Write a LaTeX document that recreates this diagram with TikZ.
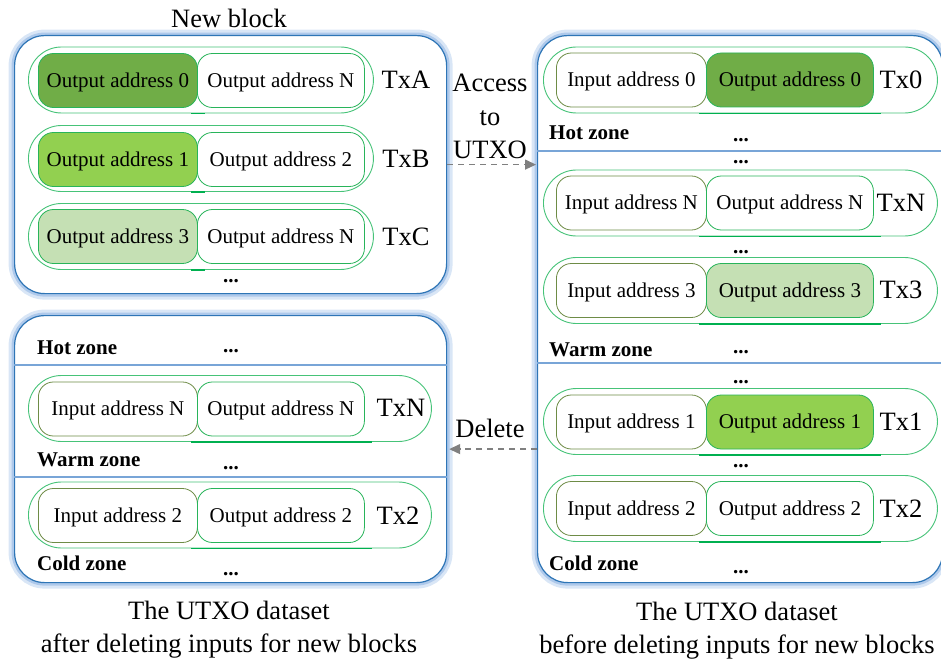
\documentclass[tikz,border=0pt]{standalone}
\usepackage{fontspec}
\setmainfont{Liberation Serif}
\usetikzlibrary{arrows.meta}
\definecolor{darkfill}{HTML}{70AD47}
\definecolor{midfill}{HTML}{92D050}
\definecolor{lightfill}{HTML}{C5E0B4}
\definecolor{capgreen}{RGB}{70,195,120}
\definecolor{outgreen}{RGB}{40,180,90}
\definecolor{inolive}{RGB}{110,140,70}
\definecolor{ulgreen}{RGB}{0,176,80}
\definecolor{panelblue}{RGB}{46,117,182}
\definecolor{glowblue}{RGB}{160,192,232}
\definecolor{zoneblue}{RGB}{120,165,215}
\definecolor{arrgray}{RGB}{128,128,128}
\newcommand\addrfont{\fontsize{21}{25}\selectfont}
\newcommand\bigfont{\fontsize{26.5}{33.5}\selectfont}
\newcommand\zonefont{\fontsize{21}{25}\selectfont\bfseries}
\tikzset{
  panel/.style={fill=white, draw=panelblue, line width=1.2pt, rounded corners=30pt,
    inner sep=0pt, anchor=north west,
    preaction={draw=glowblue!40, line width=12pt},
    preaction={draw=glowblue!85, line width=6pt}},
  txcap/.style={draw=capgreen, line width=0.9pt, rounded corners=33pt, minimum height=66pt,
    inner sep=0pt, anchor=west},
  inb/.style={draw=inolive, line width=0.8pt, rounded corners=15pt, minimum height=54pt,
    minimum width=#1, inner sep=0pt, anchor=west, fill=white, font=\addrfont, text depth=1.5pt},
  outb/.style={draw=outgreen, line width=0.8pt, rounded corners=15pt, minimum height=54pt,
    minimum width=167pt, inner sep=0pt, anchor=west, fill=white, font=\addrfont, text depth=1.5pt},
  txlabel/.style={font=\bigfont, inner sep=0pt},
  zonelbl/.style={font=\zonefont, anchor=west, inner sep=0pt},
  dotlbl/.style={font=\addrfont\bfseries, inner sep=0pt},
  uline/.style={draw=ulgreen, line width=1.8pt},
  zline/.style={draw=zoneblue, line width=1.3pt},
  conn/.style={draw=arrgray, line width=1.3pt, dash pattern=on 6pt off 5pt,
    -{Triangle[length=11pt,width=10pt]}},
  captext/.style={font=\bigfont, align=center, inner sep=0pt}
}
\begin{document}
\begin{tikzpicture}[x=1pt,y=-1pt]
\useasboundingbox (0,0) rectangle (941,660);

% ---------- panels ----------
\node[panel, minimum width=432pt, minimum height=258pt] (newblk) at (14,35) {};
\node[panel, minimum width=405pt, minimum height=547pt] (utxo) at (537,35) {};
\node[panel, minimum width=432pt, minimum height=267pt] (after) at (14,315) {};

\node[font=\bigfont, inner sep=0pt] (title) at (229,18) {New block};

% ---------- new block rows ----------
\node[txcap, minimum width=345pt] (capA) at (28,80) {};
\node[outb, minimum width=159pt, fill=darkfill] (aL) at (38,80.5) {Output address 0};
\node[outb] (aR) at (197,80.5) {Output address N};
\node[txlabel] (txA) at (406,80) {TxA};
\draw[uline] ([xshift=163pt]capA.south west) -- ++(14,0);

\node[txcap, minimum width=345pt] (capB) at (28,158.5) {};
\node[outb, minimum width=159pt, fill=midfill] (bL) at (38,159.5) {Output address 1};
\node[outb] (bR) at (197,159.5) {Output address 2};
\node[txlabel] (txB) at (406,159) {TxB};
\draw[uline] ([xshift=163pt]capB.south west) -- ++(14,0);

\node[txcap, minimum width=345pt] (capC) at (28,236.5) {};
\node[outb, minimum width=159pt, fill=lightfill] (cL) at (38,236.5) {Output address 3};
\node[outb] (cR) at (197,236.5) {Output address N};
\node[txlabel] (txC) at (406,237) {TxC};
\draw[uline] ([xshift=163pt]capC.south west) -- ++(14,0);
\node[dotlbl] (d0) at (231,281) {...};

% ---------- UTXO before ----------
\node[txcap, minimum width=394pt] (cap0) at (543,80) {};
\node[inb=150pt] (r0L) at (556,80) {Input address 0};
\node[outb, fill=darkfill] (r0R) at (706,80) {Output address 0};
\node[txlabel] (tx0) at (901,80) {Tx0};
\draw[uline] ([xshift=156pt]cap0.south west) -- ++(182,0);
\node[zonelbl] (hot1) at (549,133) {Hot zone};
\node[dotlbl] (d1) at (741,140) {...};
\draw[zline] (utxo.west |- 0,151) -- (utxo.east |- 0,151);
\node[dotlbl] (d2) at (741,162) {...};

\node[txcap, minimum width=394pt] (capN) at (543,203) {};
\node[inb=150pt] (rNL) at (556,203) {Input address N};
\node[outb] (rNR) at (706,203) {Output address N};
\node[txlabel] (txN) at (901,203) {TxN};
\draw[uline] ([xshift=156pt]capN.south west) -- ++(182,0);
\node[dotlbl] (d3) at (741,252) {...};

\node[txcap, minimum width=394pt] (cap3) at (543,290.5) {};
\node[inb=150pt] (r3L) at (556,290.5) {Input address 3};
\node[outb, fill=lightfill] (r3R) at (706,290.5) {Output address 3};
\node[txlabel] (tx3) at (901,290) {Tx3};
\draw[uline] ([xshift=156pt]cap3.south west) -- ++(182,0);
\node[zonelbl] (warm1) at (549,350) {Warm zone};
\node[dotlbl] (d4) at (741,352) {...};
\draw[zline] (utxo.west |- 0,363) -- (utxo.east |- 0,363);
\node[dotlbl] (d5) at (741,382) {...};

\node[txcap, minimum width=394pt] (cap1) at (543,421.5) {};
\node[inb=150pt] (r1L) at (556,422) {Input address 1};
\node[outb, fill=midfill] (r1R) at (706,422) {Output address 1};
\node[txlabel] (tx1) at (901,422) {Tx1};
\draw[uline] ([xshift=156pt]cap1.south west) -- ++(182,0);
\node[dotlbl] (d6) at (741,466) {...};

\node[txcap, minimum width=394pt] (cap2) at (543,508.5) {};
\node[inb=150pt] (r2L) at (556,508.5) {Input address 2};
\node[outb] (r2R) at (706,508.5) {Output address 2};
\node[txlabel] (tx2) at (901,509) {Tx2};
\draw[uline] ([xshift=156pt]cap2.south west) -- ++(182,0);
\node[zonelbl] (cold1) at (549,563) {Cold zone};
\node[dotlbl] (d7) at (741,572) {...};

% ---------- UTXO after ----------
\node[zonelbl] (hot2) at (37,348) {Hot zone};
\node[dotlbl] (d8) at (231,351) {...};
\draw[zline] (after.west |- 0,365) -- (after.east |- 0,365);

\node[txcap, minimum width=403pt] (capAN) at (28,408.5) {};
\node[inb=159pt] (aNL) at (38,409) {Input address N};
\node[outb] (aNR) at (197,409) {Output address N};
\node[txlabel] (txAN) at (401,408) {TxN};
\draw[uline] ([xshift=163pt]capAN.south west) -- ++(181,0);
\node[zonelbl] (warm2) at (37,460) {Warm zone};
\node[dotlbl] (d9) at (231,468) {...};
\draw[zline] (after.west |- 0,477) -- (after.east |- 0,477);

\node[txcap, minimum width=403pt] (capA2) at (28,515) {};
\node[inb=159pt] (a2L) at (38,515.5) {Input address 2};
\node[outb] (a2R) at (197,515.5) {Output address 2};
\node[txlabel] (txA2) at (398,516) {Tx2};
\draw[uline] ([xshift=163pt]capA2.south west) -- ++(181,0);
\node[zonelbl] (cold2) at (37,563) {Cold zone};
\node[dotlbl] (d10) at (231,574) {...};

% ---------- captions ----------
\node[captext] (capL) at (229,629.5) {The UTXO dataset\\after deleting inputs for new blocks};
\node[captext] (capR) at (737,630.5) {The UTXO dataset\\before deleting inputs for new blocks};

% ---------- connectors ----------
\draw[conn, shorten >=1pt] (newblk.east) -- (newblk.east -| utxo.west);
\node[font=\bigfont, align=center, inner sep=0pt] (acc) at (490,116.5) {Access\\to\\UTXO};
\draw[conn, shorten >=2pt] (utxo.west |- after.east) -- (after.east);
\node[font=\bigfont, inner sep=0pt] (del) at (490,428) {Delete};
\end{tikzpicture}
\end{document}
